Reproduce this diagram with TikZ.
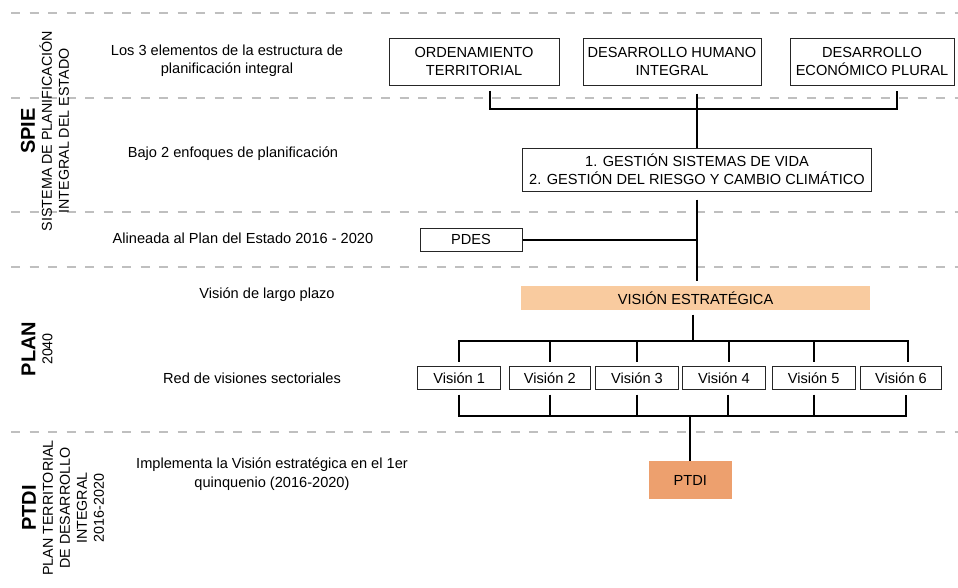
\documentclass[tikz,border=0pt]{standalone}
\usepackage{fontspec}
\setmainfont{Liberation Sans}
\usetikzlibrary{calc}
\definecolor{dashgray}{HTML}{BFBFBF}
\definecolor{vefill}{HTML}{F9CB9F}
\definecolor{ptdifill}{HTML}{EDA06E}
\newcommand{\mfont}{\fontsize{14.6}{18.3}\selectfont}
\newcommand{\sfont}{\fontsize{14.3}{17}\selectfont}
\begin{document}
\begin{tikzpicture}[x=1pt,y=-1pt,
  sep/.style={draw=dashgray, line width=1.6pt, dash pattern=on 9pt off 9.5pt},
  box/.style={draw=black!85, line width=1pt, fill=white, align=center, font=\mfont, inner sep=0pt},
  conn/.style={line width=2pt, black},
  lbl/.style={align=center, font=\mfont, inner sep=0pt},
  side/.style={rotate=90, align=center, font=\sfont, inner sep=0pt}]
\useasboundingbox (0,0) rectangle (958,587);
% separators
\foreach \yy in {13,98,212,267,432} \draw[sep] (11,\yy) -- (958,\yy);
% side labels
\node[side] (spie) at (45,131) {{\fontsize{20}{20}\bfseries SPIE}\\SISTEMA DE PLANIFICACIÓN\\INTEGRAL DEL ESTADO};
\node[side] (plan) at (37,349) {{\fontsize{20}{20}\bfseries PLAN}\\2040};
\node[side] (ptdil) at (63,508) {{\fontsize{20}{20}\bfseries PTDI}\\PLAN TERRITORIAL\\DE DESARROLLO\\INTEGRAL\\2016-2020};
% row texts
\node[lbl] (t1) at (227,61) {Los 3 elementos de la estructura de\\planificación integral};
\node[lbl] (t2) at (233,154) {Bajo 2 enfoques de planificación};
\node[lbl] (t3) at (243,238) {Alineada al Plan del Estado 2016 - 2020};
\node[lbl] (t4) at (267,295) {Visión de largo plazo};
\node[lbl] (t5) at (252,378) {Red de visiones sectoriales};
\node[lbl] (t6) at (272,474) {Implementa la Visión estratégica en el 1er\\quinquenio (2016-2020)};
% boxes
\node[box, minimum width=170, minimum height=47] (ord) at (474,61.5) {ORDENAMIENTO\\TERRITORIAL};
\node[box, minimum width=178, minimum height=47] (dhi) at (672,61.5) {DESARROLLO HUMANO\\INTEGRAL};
\node[box, minimum width=164, minimum height=47] (dep) at (872,61.5) {DESARROLLO\\ECONÓMICO PLURAL};
\node[box, minimum width=349, minimum height=43] (ges) at (697,169.5) {1. GESTIÓN SISTEMAS DE VIDA\\2. GESTIÓN DEL RIESGO Y CAMBIO CLIMÁTICO};
\node[box, minimum width=102, minimum height=23] (pdes) at (471,239.5) {PDES};
\node[box, draw=none, fill=vefill, minimum width=349, minimum height=24] (ve) at (695.5,298) {VISIÓN ESTRATÉGICA};
\node[box, minimum width=83, minimum height=23] (v1) at (459.2,378) {Visión 1};
\node[box, minimum width=81, minimum height=23] (v2) at (549.8,378) {Visión 2};
\node[box, minimum width=82.6, minimum height=23] (v3) at (637,378) {Visión 3};
\node[box, minimum width=82.3, minimum height=23] (v4) at (723.9,378) {Visión 4};
\node[box, minimum width=82.7, minimum height=23] (v5) at (813.7,378) {Visión 5};
\node[box, minimum width=81, minimum height=23] (v6) at (901,378) {Visión 6};
\node[box, draw=none, fill=ptdifill, minimum width=83, minimum height=38] (ptdi) at (690.3,480) {PTDI};
% bracket under the three elements
\coordinate (b1) at (0,109);
\draw[conn] ($(ord.south)+(16,5)$) -- ($(ord.south |- b1)+(16,0)$) -| ($(dep.south)+(25,5)$);
\draw[conn] ($(ges.north |- dhi.south)+(0,8)$) -- (ges.north);
\draw[conn] ($(ges.south)+(0,8)$) -- ($(ges.south |- ve.north)+(0,-5)$);
\draw[conn] (pdes.east) -- (pdes.east -| ges.south);
% vision tree
\coordinate (tb) at (0,340.7);
\coordinate (bb) at (0,415.7);
\draw[conn] ($(ve.south)+(-3,4)$) -- ($(ve.south |- tb)+(-3,0)$);
\draw[conn] ($(v1.north)+(0,-4.4)$) -- (v1.north |- tb) -| ($(v6.north)+(7,-4.4)$);
\foreach \n/\d in {2/0,3/0,4/5,5/0}
  \draw[conn] ($(v\n.north)+(\d,-4.4)$) -- ($(v\n.north |- tb)+(\d,0)$);
\draw[conn] ($(v1.south)+(0,4.7)$) -- (v1.south |- bb) -| ($(v6.south)+(5,4.7)$);
\foreach \n/\d in {2/0,3/0,4/4,5/0}
  \draw[conn] ($(v\n.south)+(\d,4.7)$) -- ($(v\n.south |- bb)+(\d,0)$);
\draw[conn] (ptdi.north |- bb) -- (ptdi.north);
\end{tikzpicture}
\end{document}
